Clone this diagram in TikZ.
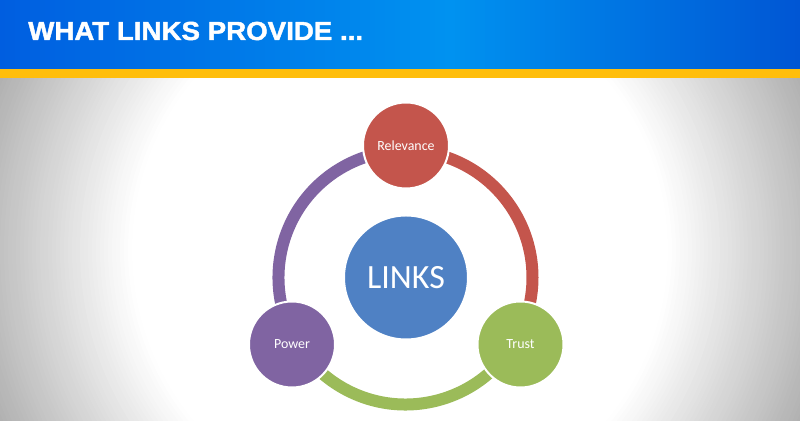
\documentclass[tikz,border=0pt]{standalone}
\usepackage{fontspec}
\usepackage{tikz}
\newfontfamily\titlefont{Liberation Sans}[BoldFeatures={FakeBold=1.6}]
\newfontfamily\bodyfont{Carlito}

\definecolor{relred}{HTML}{C4554C}
\definecolor{trustgreen}{HTML}{9BBB59}
\definecolor{powerpurple}{HTML}{8064A2}
\definecolor{linkblue}{HTML}{4F81C4}
\definecolor{barblue}{RGB}{0,94,224}
\definecolor{barlight}{RGB}{0,146,240}
\definecolor{bardark}{RGB}{0,86,212}
\definecolor{baryellow}{RGB}{255,190,12}

\begin{document}
\begin{tikzpicture}[x=0.03cm,y=0.03cm,
    bubble/.style={circle, fill=#1, draw=white, line width=0.06cm, minimum size=2.58cm,
      inner sep=0pt, text=white, font=\bodyfont\fontsize{11.9}{13}\selectfont},
    hub/.style={circle, fill=linkblue, draw=white, line width=0.06cm, minimum size=3.72cm,
      inner sep=0pt, text=white, font=\bodyfont\fontsize{29}{32}\selectfont},
    ring/.style={line width=0.36cm, draw=#1}]
    \useasboundingbox (0,0) rectangle (800,421);
    % slide background: grey edges, white glow in the middle
    \begin{scope}
      \clip (0,0) rectangle (800,343);
      \foreach \r in {444,440,...,268} {
        \pgfmathsetmacro\g{max(0,24*(\r-270)/130)}
        \fill[black!\g] (400,171) circle [radius=\r];
      }
    \end{scope}
    % title bar
    \foreach \x in {0,5,...,445} {
      \pgfmathsetmacro\p{(\x+2.5)/4.5}
      \fill[barlight!\p!barblue] (\x,352) rectangle (\x+5.3,421);
    }
    \foreach \x in {450,455,...,795} {
      \pgfmathsetmacro\p{(797.5-\x)/3.5}
      \fill[barlight!\p!bardark] (\x,352) rectangle (\x+5.3,421);
    }
    \fill[baryellow] (0,343) rectangle (800,352);
    \node[anchor=base west, inner sep=0pt, text=white, xscale=1.06,
      font=\titlefont\bfseries\fontsize{22.3}{24}\selectfont] (title) at (28,381) {WHAT LINKS PROVIDE ...};
    % cycle
    \coordinate (C) at (405.5,143.5);
    \draw[ring=relred] ([shift={(90:127)}]C) arc [start angle=90, end angle=-30, radius=127];
    \draw[ring=trustgreen] ([shift={(-30:127)}]C) arc [start angle=-30, end angle=-150, radius=127];
    \draw[ring=powerpurple] ([shift={(210:127)}]C) arc [start angle=210, end angle=90, radius=127];
    \node[hub] (links) at (406,143.5) {LINKS};
    \node[bubble=relred] (relevance) at (406,275.5) {Relevance};
    \node[bubble=trustgreen] (trust) at (520.5,76.5) {Trust};
    \node[bubble=powerpurple] (power) at (292,76.5) {Power};
\end{tikzpicture}
\end{document}
